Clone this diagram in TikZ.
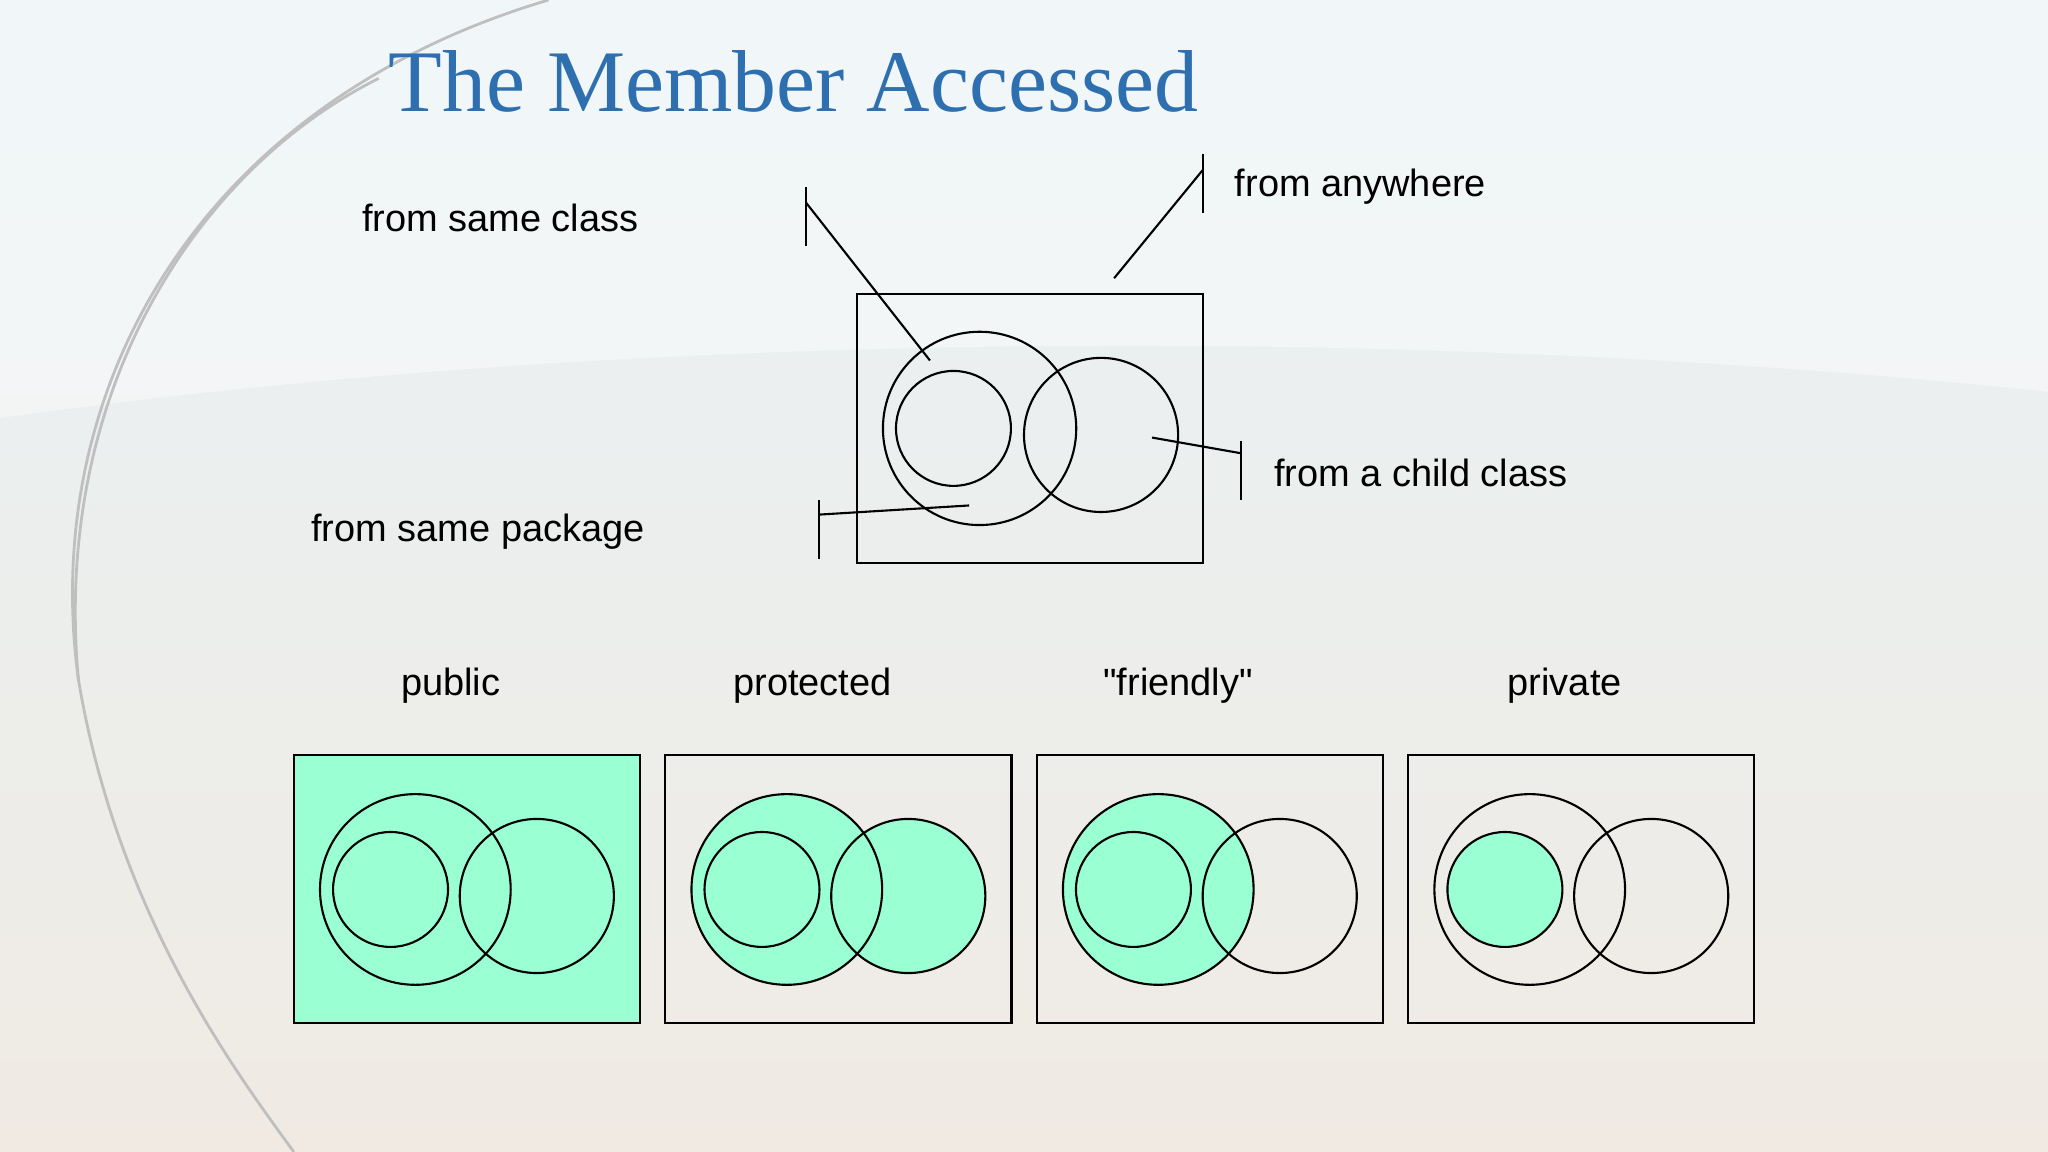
\documentclass[tikz,border=0pt]{standalone}
\usepackage{fontspec}
\setmainfont{Liberation Sans}
\newfontfamily\plainsans{Liberation Sans}
\newfontfamily\titlefont{Liberation Serif}
\definecolor{mint}{HTML}{9AFFD2}
\definecolor{titleblue}{HTML}{2E6FB0}
\definecolor{bgtop}{HTML}{E8F2F6}
\definecolor{bgbot}{HTML}{F0EAE3}
\begin{document}
\begin{tikzpicture}[x=0.01306cm,y=-0.01306cm,
  lbl/.style={font=\fontsize{10.8}{12}\selectfont},
  ln/.style={draw=black,line width=0.6pt},
  arcline/.style={draw=gray!50,line width=0.8pt}]
\useasboundingbox (0,0) rectangle (1568,882);
\shade[top color=bgtop,bottom color=bgbot] (0,0) rectangle (1568,882);
\fill[white,opacity=0.4] (0,320) .. controls (500,250) and (1100,250) .. (1568,300) -- (1568,0) -- (0,0) -- cycle;
\draw[arcline] (420,0) .. controls (150,80) and (30,300) .. (60,520) .. controls (90,700) and (180,820) .. (225,882);
\draw[arcline] (60,520) .. controls (40,300) and (150,130) .. (290,60);
\node[anchor=base west,font=\titlefont\fontsize{25}{30}\selectfont,text=titleblue,inner sep=0] (title) at (297,85) {The Member Accessed};
% top diagram
\draw[ln] (656,225) rectangle (921,431);
\node[ln,circle,minimum size=148*0.01306cm,inner sep=0] (big) at (750,328) {};
\node[ln,circle,minimum size=88*0.01306cm,inner sep=0] (small) at (730,328) {};
\node[ln,circle,minimum size=118*0.01306cm,inner sep=0] (right) at (843,333) {};
\node[lbl] (lsame) at (383,167) {from same class};
\node[lbl,anchor=west] (lany) at (936,143) {from anywhere};
\node[lbl,anchor=west] (lchild) at (966,362) {from a child class};
\node[lbl] (lpkg) at (366,407) {from same package};
\coordinate (t1a) at (617,143); \coordinate (t1b) at (617,188); \coordinate (t1m) at (617,155); \coordinate (e1) at (712,276);
\draw[ln] (t1a) -- (t1b); \draw[ln] (t1m) -- (e1);
\coordinate (t2a) at (921,118); \coordinate (t2b) at (921,163); \coordinate (t2m) at (921,130); \coordinate (e2) at (853,213);
\draw[ln] (t2a) -- (t2b); \draw[ln] (t2m) -- (e2);
\coordinate (t3a) at (950,338); \coordinate (t3b) at (950,383); \coordinate (t3m) at (950,347); \coordinate (e3) at (882,335);
\draw[ln] (t3a) -- (t3b); \draw[ln] (t3m) -- (e3);
\coordinate (t4a) at (627,383); \coordinate (t4b) at (627,428); \coordinate (t4m) at (627,394); \coordinate (e4) at (742,387);
\draw[ln] (t4a) -- (t4b); \draw[ln] (t4m) -- (e4);
% panel labels
\node[lbl] (lab0) at (345,525) {public};
\node[lbl] (lab1) at (622,525) {protected};
\node[lbl] (lab2) at (902,525) {\plainsans "friendly"};
\node[lbl] (lab3) at (1198,525) {private};
% bottom panels
\foreach \i/\mode in {0/1,1/2,2/3,3/4}{
 \begin{scope}[shift={(225+284.4*\i,578)}]
  \ifnum\mode=1 \fill[mint] (0,0) rectangle (265,205); \fi
  \ifnum\mode=2 \fill[mint] (93,103) circle (73); \fill[mint] (186,108) circle (59); \fi
  \ifnum\mode=3 \fill[mint] (93,103) circle (73); \fi
  \ifnum\mode=4 \fill[mint] (74,103) circle (44); \fi
  \draw[ln] (0,0) rectangle (265,205);
  \draw[ln] (93,103) circle (73);
  \draw[ln] (74,103) circle (44);
  \draw[ln] (186,108) circle (59);
 \end{scope}}
\end{tikzpicture}
\end{document}
